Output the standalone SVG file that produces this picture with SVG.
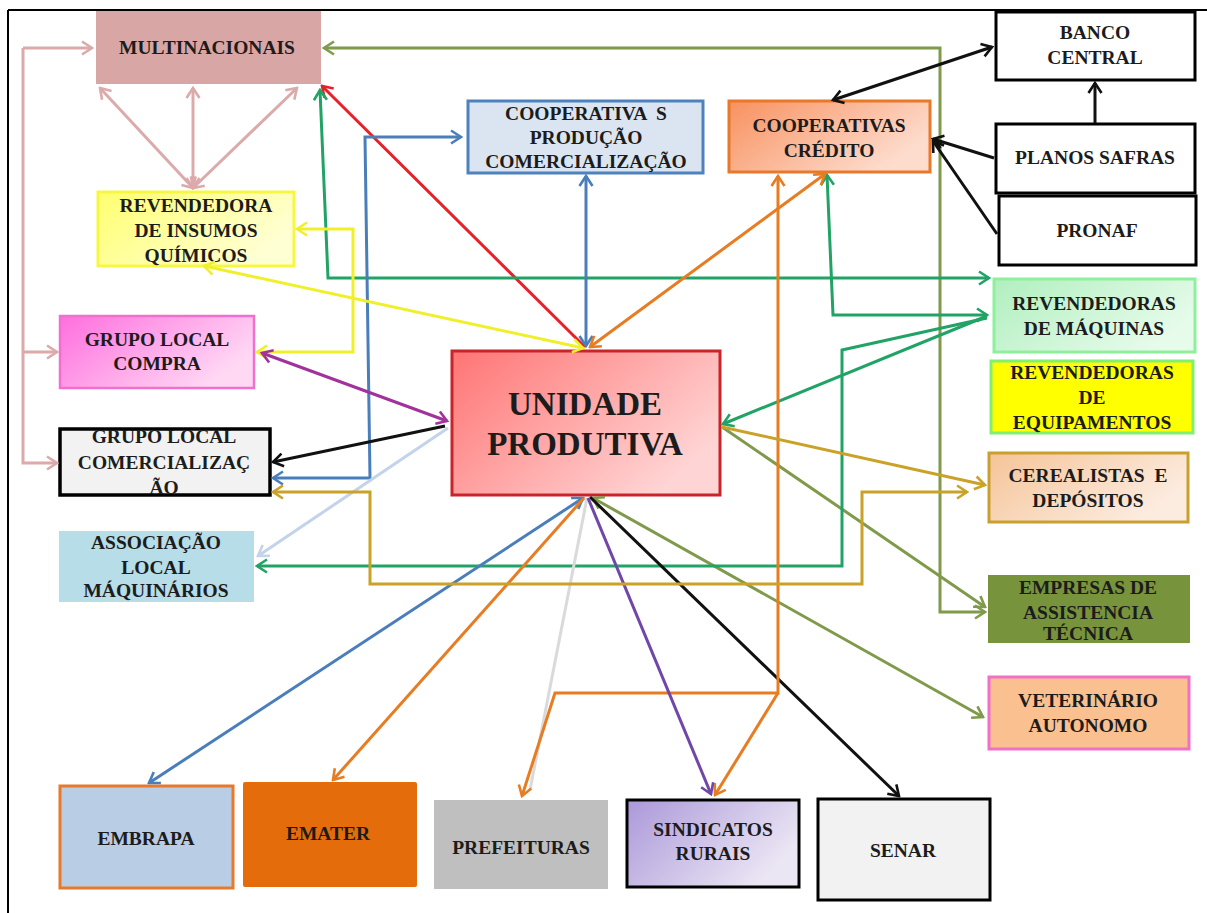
<svg xmlns="http://www.w3.org/2000/svg" width="1207" height="913" viewBox="0 0 1207 913">
<style>
text{font-family:"Liberation Serif","Times New Roman",serif;font-weight:bold;font-size:19.5px;fill:#1c1c1c;text-anchor:middle}
.big{font-size:33px}
.c{fill:none;stroke-width:3;stroke-linejoin:miter}
</style>
<defs>
<linearGradient id="gU" x1="0" y1="0" x2="1" y2="0.6"><stop offset="0" stop-color="#ff7474"/><stop offset="1" stop-color="#ffd4d4"/></linearGradient>
<linearGradient id="gCC" x1="0" y1="0" x2="1" y2="0.5"><stop offset="0" stop-color="#f8915f"/><stop offset="1" stop-color="#fddccd"/></linearGradient>
<linearGradient id="gGC" x1="0" y1="0" x2="1" y2="0.5"><stop offset="0" stop-color="#ff6ede"/><stop offset="1" stop-color="#ffd8f4"/></linearGradient>
<linearGradient id="gRI" x1="0" y1="0" x2="1" y2="0.5"><stop offset="0" stop-color="#ffff70"/><stop offset="1" stop-color="#ffffd4"/></linearGradient>
<linearGradient id="gRM" x1="0" y1="0" x2="1" y2="0.5"><stop offset="0" stop-color="#b0efbf"/><stop offset="1" stop-color="#e6fbea"/></linearGradient>
<linearGradient id="gCE" x1="0" y1="0" x2="1" y2="0.5"><stop offset="0" stop-color="#f5c498"/><stop offset="1" stop-color="#fcece0"/></linearGradient>
<linearGradient id="gSI" x1="0" y1="0" x2="1" y2="0.5"><stop offset="0" stop-color="#ab98d9"/><stop offset="1" stop-color="#ebe6f4"/></linearGradient>
<marker id="mPk" viewBox="-12 -8 14 16" refX="0" refY="0" markerWidth="14" markerHeight="16" markerUnits="userSpaceOnUse" orient="auto-start-reverse"><path d="M-10,-6.5 L0,0 L-10,6.5" fill="none" stroke="#dcaaaa" stroke-width="2.6"/></marker>
<marker id="mOl" viewBox="-12 -8 14 16" refX="0" refY="0" markerWidth="14" markerHeight="16" markerUnits="userSpaceOnUse" orient="auto-start-reverse"><path d="M-10,-6.5 L0,0 L-10,6.5" fill="none" stroke="#7f9a4a" stroke-width="2.6"/></marker>
<marker id="mRd" viewBox="-12 -8 14 16" refX="0" refY="0" markerWidth="14" markerHeight="16" markerUnits="userSpaceOnUse" orient="auto-start-reverse"><path d="M-10,-6.5 L0,0 L-10,6.5" fill="none" stroke="#e8202a" stroke-width="2.6"/></marker>
<marker id="mGr" viewBox="-12 -8 14 16" refX="0" refY="0" markerWidth="14" markerHeight="16" markerUnits="userSpaceOnUse" orient="auto-start-reverse"><path d="M-10,-6.5 L0,0 L-10,6.5" fill="none" stroke="#21a366" stroke-width="2.6"/></marker>
<marker id="mBl" viewBox="-12 -8 14 16" refX="0" refY="0" markerWidth="14" markerHeight="16" markerUnits="userSpaceOnUse" orient="auto-start-reverse"><path d="M-10,-6.5 L0,0 L-10,6.5" fill="none" stroke="#4a7ebb" stroke-width="2.6"/></marker>
<marker id="mYe" viewBox="-12 -8 14 16" refX="0" refY="0" markerWidth="14" markerHeight="16" markerUnits="userSpaceOnUse" orient="auto-start-reverse"><path d="M-10,-6.5 L0,0 L-10,6.5" fill="none" stroke="#f0f02a" stroke-width="2.6"/></marker>
<marker id="mMg" viewBox="-12 -8 14 16" refX="0" refY="0" markerWidth="14" markerHeight="16" markerUnits="userSpaceOnUse" orient="auto-start-reverse"><path d="M-10,-6.5 L0,0 L-10,6.5" fill="none" stroke="#a1329c" stroke-width="2.6"/></marker>
<marker id="mBk" viewBox="-12 -8 14 16" refX="0" refY="0" markerWidth="14" markerHeight="16" markerUnits="userSpaceOnUse" orient="auto-start-reverse"><path d="M-10,-6.5 L0,0 L-10,6.5" fill="none" stroke="#111" stroke-width="2.6"/></marker>
<marker id="mLb" viewBox="-12 -8 14 16" refX="0" refY="0" markerWidth="14" markerHeight="16" markerUnits="userSpaceOnUse" orient="auto-start-reverse"><path d="M-10,-6.5 L0,0 L-10,6.5" fill="none" stroke="#c2d3ea" stroke-width="2.6"/></marker>
<marker id="mOr" viewBox="-12 -8 14 16" refX="0" refY="0" markerWidth="14" markerHeight="16" markerUnits="userSpaceOnUse" orient="auto-start-reverse"><path d="M-10,-6.5 L0,0 L-10,6.5" fill="none" stroke="#e77c22" stroke-width="2.6"/></marker>
<marker id="mPu" viewBox="-12 -8 14 16" refX="0" refY="0" markerWidth="14" markerHeight="16" markerUnits="userSpaceOnUse" orient="auto-start-reverse"><path d="M-10,-6.5 L0,0 L-10,6.5" fill="none" stroke="#7046a8" stroke-width="2.6"/></marker>
<marker id="mAu" viewBox="-12 -8 14 16" refX="0" refY="0" markerWidth="14" markerHeight="16" markerUnits="userSpaceOnUse" orient="auto-start-reverse"><path d="M-10,-6.5 L0,0 L-10,6.5" fill="none" stroke="#c9a227" stroke-width="2.6"/></marker>
</defs>
<rect width="1207" height="913" fill="#fff"/>
<g id="frame" stroke="#000" stroke-width="2"><line x1="8" y1="10" x2="1207" y2="10"/><line x1="8" y1="10" x2="8" y2="913"/></g>

<g id="multinacionais"><rect x="96" y="11" width="225" height="73" fill="#d9a6a6"/><text x="207" y="54">MULTINACIONAIS</text></g>
<g id="revendedora-insumos"><rect x="98" y="192" width="196" height="74" fill="url(#gRI)" stroke="#f7f740" stroke-width="3"/><text x="196" y="212">REVENDEDORA</text><text x="196" y="237">DE INSUMOS</text><text x="196" y="262">QUÍMICOS</text></g>
<g id="grupo-compra"><rect x="60" y="316" width="194" height="72" fill="url(#gGC)" stroke="#f070d0" stroke-width="2.5"/><text x="157" y="346" fill="#3a1a35">GRUPO LOCAL</text><text x="157" y="370" fill="#3a1a35">COMPRA</text></g>
<g id="grupo-comercializacao"><rect x="60" y="429" width="210" height="66" fill="#f2f2f2" stroke="#000" stroke-width="3.5"/><text x="164" y="443">GRUPO LOCAL</text><text x="164" y="469">COMERCIALIZAÇ</text><text x="164" y="494">ÃO</text></g>
<g id="associacao"><rect x="59" y="531" width="195" height="71" fill="#b7dde8"/><text x="156" y="549" fill="#1a3040">ASSOCIAÇÃO</text><text x="156" y="574" fill="#1a3040">LOCAL</text><text x="156" y="597" fill="#1a3040">MÁQUINÁRIOS</text></g>
<g id="unidade"><rect x="452" y="351" width="268" height="144" fill="url(#gU)" stroke="#c8242a" stroke-width="3"/><text class="big" x="585" y="415">UNIDADE</text><text class="big" x="585" y="455">PRODUTIVA</text></g>
<g id="coop-producao"><rect x="468" y="101" width="235" height="72" fill="#dbe5f1" stroke="#4f81bd" stroke-width="3"/><text x="586" y="120" xml:space="preserve">COOPERATIVA  S</text><text x="586" y="144">PRODUÇÃO</text><text x="586" y="168">COMERCIALIZAÇÃO</text></g>
<g id="coop-credito"><rect x="729" y="101" width="201" height="71" fill="url(#gCC)" stroke="#e8792a" stroke-width="3"/><text x="829" y="132">COOPERATIVAS</text><text x="829" y="157">CRÉDITO</text></g>
<g id="banco-central"><rect x="996" y="12" width="199" height="68" fill="#fff" stroke="#000" stroke-width="3"/><text x="1095" y="39">BANCO</text><text x="1095" y="64">CENTRAL</text></g>
<g id="planos-safras"><rect x="996" y="124" width="199" height="69" fill="#fff" stroke="#000" stroke-width="3"/><text x="1095" y="164">PLANOS SAFRAS</text></g>
<g id="pronaf"><rect x="999" y="196" width="197" height="69" fill="#fff" stroke="#000" stroke-width="3"/><text x="1097" y="237">PRONAF</text></g>
<g id="rev-maquinas"><rect x="994" y="279" width="201" height="73" fill="url(#gRM)" stroke="#8ff09c" stroke-width="3"/><text x="1094" y="310" fill="#1a3a1f">REVENDEDORAS</text><text x="1094" y="335" fill="#1a3a1f">DE MÁQUINAS</text></g>
<g id="rev-equipamentos"><rect x="991" y="361" width="202" height="72" fill="#ffff00" stroke="#80f070" stroke-width="3"/><text x="1092" y="379">REVENDEDORAS</text><text x="1092" y="404">DE</text><text x="1092" y="429">EQUIPAMENTOS</text></g>
<g id="cerealistas"><rect x="989" y="453" width="199" height="69" fill="url(#gCE)" stroke="#c9a030" stroke-width="3"/><text x="1088" y="482" xml:space="preserve">CEREALISTAS  E</text><text x="1088" y="507">DEPÓSITOS</text></g>
<g id="empresas-assistencia"><rect x="988" y="575" width="202" height="68" fill="#77933c"/><text x="1088" y="594" fill="#1a2a10">EMPRESAS DE</text><text x="1088" y="619" fill="#1a2a10">ASSISTENCIA</text><text x="1088" y="640" fill="#1a2a10">TÉCNICA</text></g>
<g id="veterinario"><rect x="989" y="677" width="200" height="72" fill="#fac090" stroke="#f070c8" stroke-width="3"/><text x="1088" y="707" fill="#3a1a10">VETERINÁRIO</text><text x="1088" y="732" fill="#3a1a10">AUTONOMO</text></g>
<g id="embrapa"><rect x="60" y="786" width="173" height="102" fill="#b9cde5" stroke="#e8792a" stroke-width="3"/><text x="146" y="845" fill="#1f2a44">EMBRAPA</text></g>
<g id="emater"><rect x="243" y="782" width="174" height="105" rx="2" fill="#e46c0a"/><text x="328" y="840" fill="#2a1505">EMATER</text></g>
<g id="prefeituras"><rect x="434" y="800" width="174" height="89" fill="#bfbfbf"/><text x="521" y="854">PREFEITURAS</text></g>
<g id="sindicatos"><rect x="627" y="800" width="172" height="87" fill="url(#gSI)" stroke="#000" stroke-width="3"/><text x="713" y="836" fill="#2a1f4a">SINDICATOS</text><text x="713" y="860" fill="#2a1f4a">RURAIS</text></g>
<g id="senar"><rect x="818" y="799" width="172" height="101" fill="#f2f2f2" stroke="#000" stroke-width="3"/><text x="903" y="857">SENAR</text></g>

<g id="connectors">
<g stroke="#dcaaaa">
<path class="c" d="M23,48 H92" marker-end="url(#mPk)"/>
<path class="c" d="M23,48 V463 H57" marker-end="url(#mPk)"/>
<path class="c" d="M23,352 H57" marker-end="url(#mPk)"/>
<path class="c" d="M100,88 L193,188" marker-start="url(#mPk)" marker-end="url(#mPk)"/>
<path class="c" d="M193,88 L193,188" marker-start="url(#mPk)" marker-end="url(#mPk)"/>
<path class="c" d="M297,88 L193,188" marker-start="url(#mPk)" marker-end="url(#mPk)"/>
</g>
<g stroke="#7f9a4a">
<path class="c" d="M324,48 H940 V612 H985" marker-start="url(#mOl)" marker-end="url(#mOl)"/>
<path class="c" d="M722,427 L985,607" marker-end="url(#mOl)"/>
<path class="c" d="M593,498 L983,717" marker-start="url(#mOl)" marker-end="url(#mOl)"/>
</g>
<path class="c" stroke="#e8202a" d="M585,347 L322,86" marker-end="url(#mRd)"/>
<g stroke="#21a366">
<path class="c" d="M320,90 L328,278 H989" marker-start="url(#mGr)" marker-end="url(#mGr)"/>
<path class="c" d="M827,175 L833,315 H987" marker-start="url(#mGr)" marker-end="url(#mGr)"/>
<path class="c" d="M987,316 L723,424" marker-end="url(#mGr)"/>
<path class="c" d="M987,318 L842,350 V566 H257" marker-end="url(#mGr)"/>
</g>
<g stroke="#4a7ebb">
<path class="c" d="M586,346 V176" marker-start="url(#mBl)" marker-end="url(#mBl)"/>
<path class="c" d="M273,478 H370 L365,137 H461" marker-start="url(#mBl)" marker-end="url(#mBl)"/>
<path class="c" d="M583,498 L149,783" marker-start="url(#mBl)" marker-end="url(#mBl)"/>
</g>
<g stroke="#f0f02a">
<path class="c" d="M583,348 L204,266" marker-start="url(#mYe)" marker-end="url(#mYe)"/>
<path class="c" d="M257,352 H353 V229 H297" marker-start="url(#mYe)" marker-end="url(#mYe)"/>
</g>
<path class="c" stroke="#a1329c" d="M262,353 L447,421" marker-start="url(#mMg)" marker-end="url(#mMg)"/>
<g stroke="#111">
<path class="c" stroke-width="2.6" d="M445,426 L273,462" marker-end="url(#mBk)"/>
<path class="c" stroke-width="2.6" d="M833,100 L992,47" marker-start="url(#mBk)" marker-end="url(#mBk)"/>
<path class="c" stroke-width="2.6" d="M1095,123 V83" marker-end="url(#mBk)"/>
<path class="c" stroke-width="2.6" d="M994,158 L933,139" marker-end="url(#mBk)"/>
<path class="c" stroke-width="2.6" d="M997,234 L933,141" marker-end="url(#mBk)"/>
<path class="c" stroke-width="2.6" d="M590,497 L899,796" marker-end="url(#mBk)"/>
</g>
<path class="c" stroke="#c2d3ea" d="M448,428 L258,556" marker-end="url(#mLb)"/>
<path class="c" stroke="#dadada" d="M587,498 L530,790"/>
<g stroke="#e77c22">
<path class="c" d="M590,347 L825,174" marker-start="url(#mOr)" marker-end="url(#mOr)"/>
<path class="c" d="M584,498 L333,780" marker-end="url(#mOr)"/>
<path class="c" d="M778,176 V693 H555 L522,796" marker-start="url(#mOr)" marker-end="url(#mOr)"/>
<path class="c" d="M778,693 L715,795" marker-end="url(#mOr)"/>
</g>
<path class="c" stroke="#7046a8" d="M588,498 L711,794" marker-end="url(#mPu)"/>
<g stroke="#c9a227">
<path class="c" d="M722,427 L985,485" marker-end="url(#mAu)"/>
<path class="c" d="M273,492 H370 V584 H862 V492 H967" marker-start="url(#mAu)" marker-end="url(#mAu)"/>
</g>
</g>
</svg>
